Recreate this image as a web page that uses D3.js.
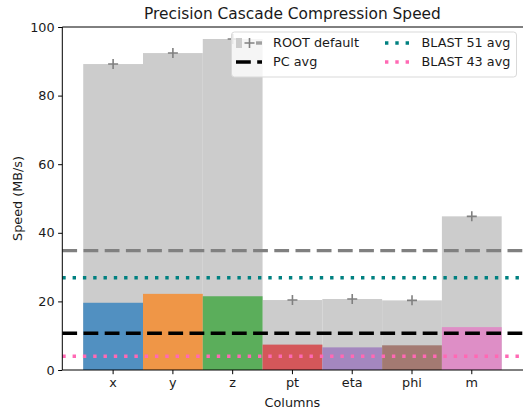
<!DOCTYPE html>
<html>
<head>
<meta charset="utf-8">
<script src="https://cdn.jsdelivr.net/npm/d3@7"></script>
<style>
  body { margin: 0; background: #fff; }
  text { font-family: "DejaVu Sans", sans-serif; fill: #1a1a1a; }
</style>
</head>
<body>
<svg id="chart" width="523" height="414"></svg>
<script>
// columns and measured speeds (MB/s)
var columns = ["x", "y", "z", "pt", "eta", "phi", "m"];
var rootDefault = [89.2, 92.4, 96.5, 20.4, 20.7, 20.3, 44.8];
var pcSpeed = [19.6, 22.2, 21.5, 7.4, 6.6, 7.2, 12.5];
var yTicks = [0, 20, 40, 60, 80, 100];

// horizontal averages
var rootAvg = 34.8;
var pcAvg = 10.7;
var blast51Avg = 26.9;
var blast43Avg = 4.0;

var barColors = ["#5190c1", "#ef9647", "#5bae5b", "#d4575a", "#a487bf", "#a37a72", "#de8ec6"];

var svg = d3.select("#chart");

var LEFT = 62.3, RIGHT = 522.6, TOP = 27, BOTTOM = 370;
var step = (RIGHT - LEFT) / 7.7;
var SMALL = 12.8;

var x = d3.scaleBand().domain(columns)
  .range([LEFT + 0.35 * step, RIGHT - 0.35 * step])
  .paddingInner(0).paddingOuter(0);
var y = d3.scaleLinear().domain([0, 100]).range([BOTTOM, TOP]);

// grey ROOT default bars
svg.append("g").selectAll("rect").data(columns).enter().append("rect")
  .attr("x", function (d) { return x(d); })
  .attr("width", x.bandwidth())
  .attr("y", function (d, i) { return y(rootDefault[i]); })
  .attr("height", function (d, i) { return BOTTOM - y(rootDefault[i]); })
  .attr("fill", "#cccccc");

// coloured PC bars
svg.append("g").selectAll("rect").data(columns).enter().append("rect")
  .attr("x", function (d) { return x(d); })
  .attr("width", x.bandwidth())
  .attr("y", function (d, i) { return y(pcSpeed[i]); })
  .attr("height", function (d, i) { return BOTTOM - y(pcSpeed[i]); })
  .attr("fill", function (d, i) { return barColors[i]; });

// plus markers on top of the grey bars
svg.append("g").selectAll("path").data(columns).enter().append("path")
  .attr("transform", function (d, i) {
    return "translate(" + (x(d) + x.bandwidth() / 2) + "," + y(rootDefault[i]) + ")";
  })
  .attr("d", "M-5,0H5M0,-5V5")
  .attr("stroke", "#808080").attr("stroke-width", 1.6).attr("fill", "none");

function hline(v, color, dash) {
  svg.append("line")
    .attr("x1", LEFT).attr("x2", 530)
    .attr("y1", y(v)).attr("y2", y(v))
    .attr("stroke", color).attr("stroke-width", 3.4)
    .attr("stroke-dasharray", dash);
}
hline(rootAvg, "#808080", "14.8,6.4");
hline(blast51Avg, "#008080", "3.4,6.9");
hline(pcAvg, "#000000", "14.8,6.4");
hline(blast43Avg, "#ff69b4", "3.4,6.9");

// axes
var xAxis = svg.append("g")
  .attr("transform", "translate(0," + BOTTOM + ")")
  .call(d3.axisBottom(x).tickSize(4.2).tickPadding(3.5));
var yAxis = svg.append("g")
  .attr("transform", "translate(" + LEFT + ",0)")
  .call(d3.axisLeft(y).tickValues(yTicks).tickSize(4.2).tickPadding(3.5));
[xAxis, yAxis].forEach(function (a) {
  a.select(".domain").remove();
  a.selectAll("line").attr("stroke", "#000").attr("stroke-width", 1);
  a.selectAll("text").attr("font-size", SMALL).attr("font-family", "DejaVu Sans").attr("fill", "#1a1a1a");
});

// spines (right one falls just outside the picture)
svg.append("path")
  .attr("d", "M530," + TOP + "H" + LEFT + "V" + BOTTOM + "H530")
  .attr("fill", "none").attr("stroke", "#000").attr("stroke-width", 1);

// titles
svg.append("text").attr("x", (LEFT + RIGHT) / 2).attr("y", 18.5)
  .attr("text-anchor", "middle").attr("font-size", 15.4)
  .text("Precision Cascade Compression Speed");
svg.append("text").attr("x", (LEFT + RIGHT) / 2).attr("y", 406.5)
  .attr("text-anchor", "middle").attr("font-size", SMALL)
  .text("Columns");
svg.append("text")
  .attr("transform", "translate(21.5," + (TOP + BOTTOM) / 2 + ") rotate(-90)")
  .attr("text-anchor", "middle").attr("font-size", SMALL)
  .text("Speed (MB/s)");

// legend
var lg = svg.append("g");
lg.append("rect").attr("x", 231.5).attr("y", 32).attr("width", 285).attr("height", 45)
  .attr("rx", 3).attr("fill", "#fff").attr("fill-opacity", 0.8)
  .attr("stroke", "#d9d9d9").attr("stroke-width", 1);

var row1 = 43, row2 = 62;
// ROOT default handle: patch + marker + dashed line
lg.append("rect").attr("x", 236).attr("y", row1 - 5).attr("width", 6).attr("height", 10).attr("fill", "#cccccc");
lg.append("path").attr("d", "M244.5," + row1 + "H254.5M249.5," + (row1 - 5) + "V" + (row1 + 5))
  .attr("stroke", "#808080").attr("stroke-width", 1.6);
lg.append("line").attr("x1", 256).attr("x2", 262).attr("y1", row1).attr("y2", row1)
  .attr("stroke", "#a0a0a0").attr("stroke-width", 3.4);
// PC avg handle
lg.append("line").attr("x1", 236).attr("x2", 262).attr("y1", row2).attr("y2", row2)
  .attr("stroke", "#000").attr("stroke-width", 3.4).attr("stroke-dasharray", "14.8,6.4");
// BLAST handles
lg.append("line").attr("x1", 385).attr("x2", 411).attr("y1", row1).attr("y2", row1)
  .attr("stroke", "#008080").attr("stroke-width", 3.4).attr("stroke-dasharray", "3.4,6.9");
lg.append("line").attr("x1", 385).attr("x2", 411).attr("y1", row2).attr("y2", row2)
  .attr("stroke", "#ff69b4").attr("stroke-width", 3.4).attr("stroke-dasharray", "3.4,6.9");

var labels = [["ROOT default", 273, row1], ["PC avg", 273, row2], ["BLAST 51 avg", 421.5, row1], ["BLAST 43 avg", 421.5, row2]];
lg.selectAll("text.lab").data(labels).enter().append("text")
  .attr("class", "lab")
  .attr("x", function (d) { return d[1]; })
  .attr("y", function (d) { return d[2]; })
  .attr("dy", "0.35em").attr("font-size", SMALL)
  .text(function (d) { return d[0]; });
</script>
</body>
</html>
